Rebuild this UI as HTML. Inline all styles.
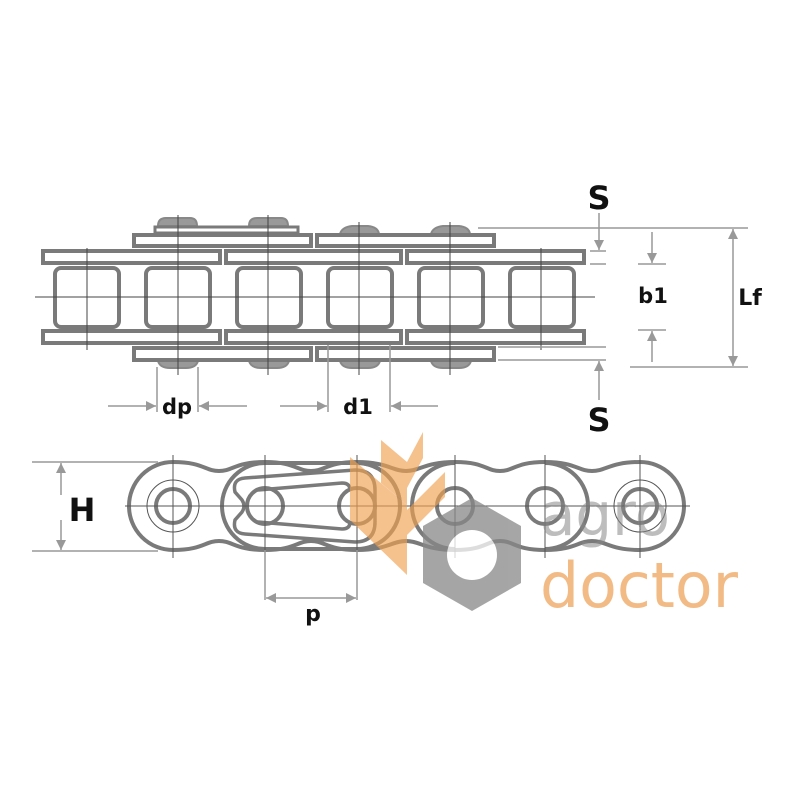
<!DOCTYPE html>
<html><head><meta charset="utf-8"><style>
html,body{margin:0;padding:0;background:#fff;}
svg{display:block}
text{font-family:"DejaVu Sans","Liberation Sans",sans-serif;font-weight:bold;fill:#111}
</style></head><body>
<svg width="800" height="800" viewBox="0 0 800 800" xmlns="http://www.w3.org/2000/svg">
<defs>
<marker id="ar" viewBox="0 0 10 10" refX="10" refY="5" markerWidth="14" markerHeight="10" orient="auto-start-reverse" markerUnits="userSpaceOnUse"><path d="M0,0 L10,5 L0,10 z" fill="#999"/></marker>
<marker id="ar2" viewBox="0 0 10 10" refX="10" refY="5" markerWidth="26" markerHeight="10" orient="auto-start-reverse" markerUnits="userSpaceOnUse"><path d="M0,0 L10,5 L0,10 z" fill="#999"/></marker>
</defs>
<rect width="800" height="800" fill="#fff"/>

<!-- TOP VIEW -->
<g fill="none" stroke="#7a7a7a">
 <g fill="#999" stroke="#888" stroke-width="2">
  <path d="M158,226 Q158,218 166,218 L190,218 Q197,218 197,226 Z"/>
  <path d="M249,226 Q249,218 257,218 L281,218 Q288,218 288,226 Z"/>
  <path d="M340,234 Q342,227 352,226 L368,226 Q378,227 379,234 Z"/>
  <path d="M431,234 Q433,227 443,226 L459,226 Q469,227 470,234 Z"/>
  <path d="M158,361 Q160,368 170,368 L186,368 Q196,368 198,361 Z"/>
  <path d="M249,361 Q251,368 261,368 L277,368 Q287,368 289,361 Z"/>
  <path d="M340,361 Q342,368 352,368 L368,368 Q378,368 380,361 Z"/>
  <path d="M431,361 Q433,368 443,368 L459,368 Q469,368 471,361 Z"/>
 </g>
 <rect x="155" y="227" width="143" height="6" stroke-width="3"/>
 <g stroke-width="4">
  <rect x="134" y="235" width="177" height="11"/>
  <rect x="317" y="235" width="177" height="11"/>
  <rect x="134" y="348" width="177" height="12"/>
  <rect x="317" y="348" width="177" height="12"/>
  <rect x="43" y="251" width="177" height="12"/>
  <rect x="226" y="251" width="175" height="12"/>
  <rect x="407" y="251" width="177" height="12"/>
  <rect x="43" y="331" width="177" height="12"/>
  <rect x="226" y="331" width="175" height="12"/>
  <rect x="407" y="331" width="177" height="12"/>
 </g>
 <g stroke-width="4">
  <rect x="55" y="268" width="64" height="59" rx="6"/>
  <rect x="146" y="268" width="64" height="59" rx="6"/>
  <rect x="237" y="268" width="64" height="59" rx="6"/>
  <rect x="328" y="268" width="64" height="59" rx="6"/>
  <rect x="419" y="268" width="64" height="59" rx="6"/>
  <rect x="510" y="268" width="64" height="59" rx="6"/>
 </g>
</g>
<g stroke="#444" stroke-width="1">
 <line x1="35" y1="297" x2="595" y2="297"/>
 <line x1="87" y1="248" x2="87" y2="350"/>
 <line x1="178" y1="215" x2="178" y2="375"/>
 <line x1="268" y1="215" x2="268" y2="375"/>
 <line x1="359" y1="222" x2="359" y2="375"/>
 <line x1="450" y1="222" x2="450" y2="375"/>
 <line x1="541" y1="248" x2="541" y2="350"/>
</g>

<g stroke="#999" stroke-width="1.5" fill="none">
 <line x1="478" y1="228" x2="748" y2="228"/>
 <line x1="630" y1="367" x2="748" y2="367"/>
 <line x1="590" y1="251" x2="606" y2="251"/>
 <line x1="590" y1="264" x2="606" y2="264"/>
 <line x1="498" y1="347" x2="606" y2="347"/>
 <line x1="498" y1="360" x2="606" y2="360"/>
 <line x1="638" y1="264" x2="666" y2="264"/>
 <line x1="638" y1="330" x2="666" y2="330"/>
 <line x1="599" y1="213" x2="599" y2="250" marker-end="url(#ar)"/>
 <line x1="599" y1="400" x2="599" y2="361" marker-end="url(#ar)"/>
 <line x1="652" y1="232" x2="652" y2="263" marker-end="url(#ar)"/>
 <line x1="652" y1="362" x2="652" y2="331" marker-end="url(#ar)"/>
 <line x1="733" y1="262" x2="733" y2="229" marker-end="url(#ar)"/>
 <line x1="733" y1="330" x2="733" y2="366" marker-end="url(#ar)"/>
 <line x1="733" y1="262" x2="733" y2="330"/>
 <line x1="157" y1="367" x2="157" y2="412"/>
 <line x1="198" y1="367" x2="198" y2="412"/>
 <line x1="328" y1="345" x2="328" y2="412"/>
 <line x1="390" y1="345" x2="390" y2="412"/>
 <line x1="108" y1="406" x2="156" y2="406" marker-end="url(#ar2)"/>
 <line x1="247" y1="406" x2="199" y2="406" marker-end="url(#ar2)"/>
 <line x1="280" y1="406" x2="327" y2="406" marker-end="url(#ar2)"/>
 <line x1="438" y1="406" x2="391" y2="406" marker-end="url(#ar2)"/>
</g>
<text x="599" y="209" font-size="32" text-anchor="middle">S</text>
<text x="599" y="431" font-size="32" text-anchor="middle">S</text>
<text x="653" y="303" font-size="21" text-anchor="middle">b1</text>
<text x="750" y="305" font-size="22" text-anchor="middle">Lf</text>
<text x="177" y="414" font-size="21" text-anchor="middle">dp</text>
<text x="358" y="414" font-size="21" text-anchor="middle">d1</text>

<!-- SIDE VIEW -->
<g fill="none" stroke="#7a7a7a" stroke-width="4">
 <path d="M173,462 C203,462 205,471 219,471 C233,471 235,462 265,462 C295,462 297,471 311,471 C325,471 327,462 357,462 C387,462 392,471 406,471 C420,471 425,462 455,462 C485,462 486,471 500,471 C514,471 515,462 545,462 C575,462 578,471 592,471 C606,471 610,462 640,462 A44,44 0 0 1 640,550 C610,550 606,541 592,541 C578,541 575,550 545,550 C515,550 514,541 500,541 C486,541 485,550 455,550 C425,550 420,541 406,541 C392,541 387,550 357,550 C327,550 325,541 311,541 C297,541 295,550 265,550 C235,550 233,541 219,541 C205,541 203,550 173,550 A44,44 0 0 1 173,462 Z"/>
 <path d="M265,463 A43,43 0 0 0 265,549"/>
 <path d="M357,463 A43,43 0 0 1 357,549"/>
 <path d="M265,463 L357,463 M265,549 L357,549"/>
 <path d="M455,463 A43,43 0 0 0 455,549"/>
 <path d="M357,463 A43,43 0 0 1 400,506"/>
 <path d="M545,463 A43,43 0 0 1 588,506 A43,43 0 0 1 545,549"/>
 <path d="M245,478 L355,470 Q375,470 375,490 L375,522 Q375,542 355,542 L245,534 Q232,533 235,520 L242,512 Q246,506 242,500 L235,492 Q232,479 245,478 Z" stroke-width="3.5"/>
 <path d="M258,490 L342,483 Q350,483 350,490 M258,522 L342,529 Q350,529 350,522" stroke-width="3.5"/>
 <circle cx="173" cy="506" r="17"/>
 <circle cx="265" cy="506" r="18"/>
 <circle cx="357" cy="506" r="18"/>
 <circle cx="455" cy="506" r="18"/>
 <circle cx="545" cy="506" r="18"/>
 <circle cx="640" cy="506" r="17"/>
</g>
<g fill="none" stroke="#555" stroke-width="1">
 <circle cx="173" cy="506" r="26"/>
 <circle cx="640" cy="506" r="26"/>
 <line x1="125" y1="506" x2="690" y2="506"/>
 <line x1="173" y1="455" x2="173" y2="558"/>
 <line x1="265" y1="455" x2="265" y2="558"/>
 <line x1="357" y1="455" x2="357" y2="558"/>
 <line x1="455" y1="455" x2="455" y2="558"/>
 <line x1="545" y1="455" x2="545" y2="558"/>
 <line x1="640" y1="455" x2="640" y2="558"/>
</g>
<g stroke="#999" stroke-width="1.5" fill="none">
 <line x1="32" y1="462" x2="158" y2="462"/>
 <line x1="32" y1="551" x2="158" y2="551"/>
 <line x1="61" y1="495" x2="61" y2="463" marker-end="url(#ar)"/>
 <line x1="61" y1="520" x2="61" y2="550" marker-end="url(#ar)"/>
 <line x1="265" y1="550" x2="265" y2="600"/>
 <line x1="357" y1="550" x2="357" y2="600"/>
 <line x1="266" y1="598" x2="311" y2="598" marker-start="url(#ar2)"/>
 <line x1="311" y1="598" x2="356" y2="598" marker-end="url(#ar2)"/>
</g>
<text x="82" y="521" font-size="32" text-anchor="middle">H</text>
<text x="313" y="621" font-size="22" text-anchor="middle">p</text>

<!-- LOGO -->
<g fill="#f0a050" opacity="0.65">
 <polygon points="350,457 407,505 407,575 350,520"/>
 <polygon points="381,440 407,462 407,505 381,483"/>
 <polygon points="407,462 423,432 423,458 407,488"/>
 <polygon points="407,510 445,472 445,497 407,535"/>
</g>
<g opacity="0.75">
 <polygon points="472,498 521,526 521,583 472,611 423,583 423,526" fill="#888"/>
 <circle cx="472" cy="555" r="25" fill="#fff"/>
</g>
<text x="540" y="535" font-size="60" textLength="130" lengthAdjust="spacingAndGlyphs" style="font-weight:normal;fill:#888;opacity:0.55" font-family="DejaVu Sans">agro</text>
<text x="540" y="607" font-size="62" textLength="198" lengthAdjust="spacingAndGlyphs" style="font-weight:normal;fill:#f0b070;opacity:0.85" font-family="DejaVu Sans">doctor</text>
</svg>
</body></html>
